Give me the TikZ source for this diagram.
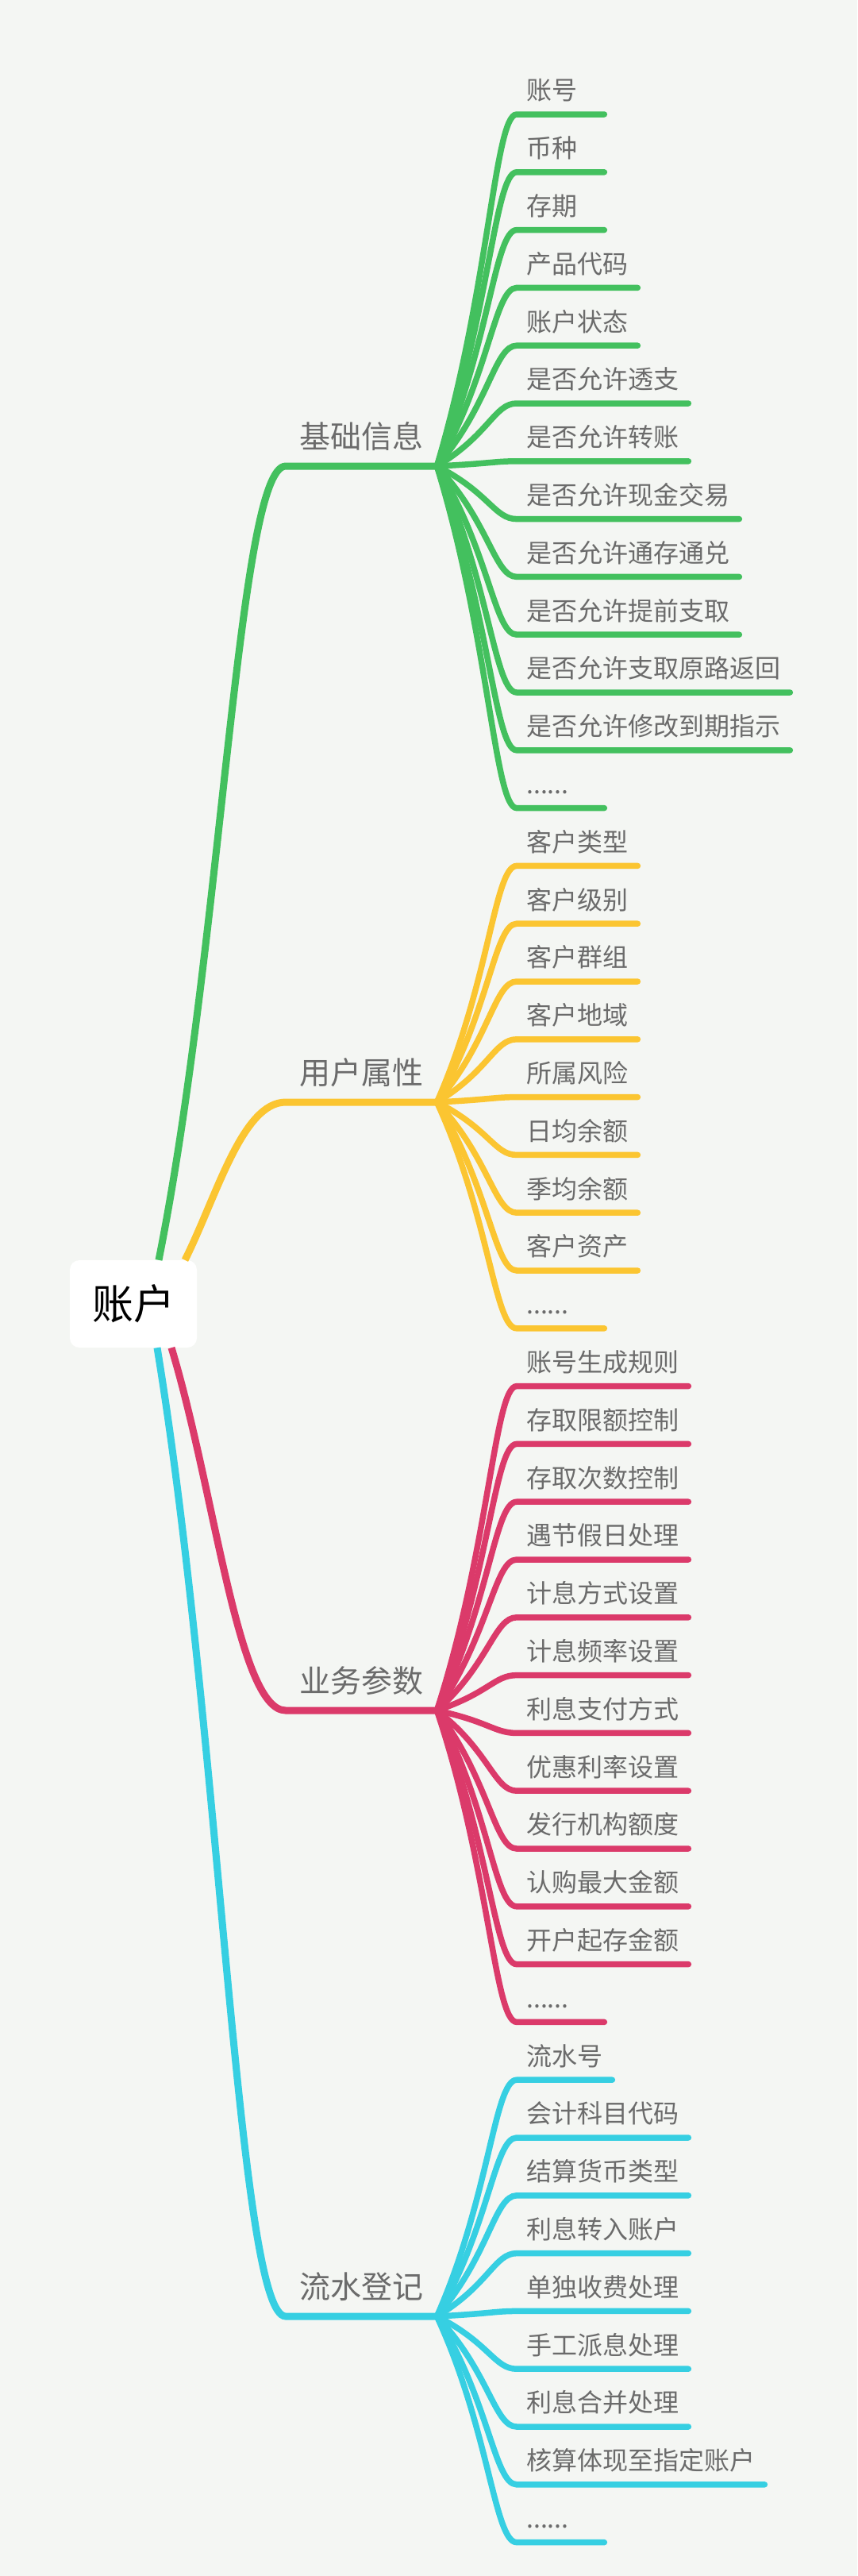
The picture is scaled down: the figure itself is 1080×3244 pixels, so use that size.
\documentclass[tikz,border=0pt]{standalone}
\usepackage{fontspec}
\setmainfont{Noto Sans CJK SC}
\usepackage{tikz}
\usetikzlibrary{calc}
\definecolor{MapBg}{HTML}{F4F6F3}
\definecolor{MapGreen}{HTML}{43C05E}
\definecolor{MapYellow}{HTML}{FBC531}
\definecolor{MapRed}{HTML}{DB3A6A}
\definecolor{MapCyan}{HTML}{36CFE2}
\definecolor{MapText}{HTML}{6B6B6B}
% pad short items so the underline keeps a minimum length
\newcommand{\itemtxt}[1]{\setbox0\hbox{#1}\ifdim\wd0<86pt\hbox to 86pt{\box0\hss}\else\box0\fi}
\newcommand{\moredots}{......}
\tikzset{
  rootbox/.style={fill=white,rounded corners=12pt,minimum width=160pt,minimum height=110pt,font=\fontsize{52}{60}\selectfont},
  topicbox/.style={anchor=south west,inner xsep=17pt,inner ysep=17pt,text=MapText,text height=34pt,text depth=5pt,font=\fontsize{39}{46}\selectfont},
  itembox/.style={anchor=south west,inner xsep=12pt,inner ysep=14pt,text=MapText,text height=28pt,text depth=4pt,font=\fontsize{32}{38}\selectfont},
  trunk/.style={line width=9pt,line cap=butt},
  twig/.style={line width=7.5pt,line cap=round},
}

\begin{document}
\begin{tikzpicture}[x=1pt,y=-1pt]
\fill[MapBg] (0,0) rectangle (1080,3244);

% centre
\node[rootbox] (acct) at (168,1642) {账户};

% main topics
\node[topicbox] (base) at (360,587) {基础信息};
\node[topicbox] (user) at (360,1388) {用户属性};
\node[topicbox] (biz) at (360,2154) {业务参数};
\node[topicbox] (flow) at (360,2917) {流水登记};

\draw[trunk,MapGreen] ([xshift=32pt]acct.north) .. controls +(80,-400) and +(-60,0) .. (base.south west) -- (base.south east);
\draw[trunk,MapYellow] ([xshift=65pt]acct.north) .. controls +(40,-80) and +(-55,0) .. (user.south west) -- (user.south east);
\draw[trunk,MapRed] ([xshift=48pt]acct.south) .. controls +(55,182) and +(-60,0) .. (biz.south west) -- (biz.south east);
\draw[trunk,MapCyan] ([xshift=30pt]acct.south) .. controls +(80,488) and +(-60,0) .. (flow.south west) -- (flow.south east);

% items, one row every 72.8
\foreach \t [count=\i from 0] in {账号,币种,存期,产品代码,账户状态,是否允许透支,是否允许转账,
    是否允许现金交易,是否允许通存通兑,是否允许提前支取,是否允许支取原路返回,是否允许修改到期指示,\moredots} {
  \node[itembox] (g\i) at (651,144+72.8*\i) {\itemtxt{\t}};
  \draw[twig,MapGreen] (base.south east) .. controls +(66,{0.5*(144+72.8*\i-587)}) and +(-28,0) .. (g\i.south west) -- (g\i.south east);
}
\foreach \t [count=\i from 13] in {客户类型,客户级别,客户群组,客户地域,所属风险,日均余额,季均余额,客户资产,\moredots} {
  \node[itembox] (y\i) at (651,144+72.8*\i) {\itemtxt{\t}};
  \draw[twig,MapYellow] (user.south east) .. controls +(66,{0.5*(144+72.8*\i-1388)}) and +(-28,0) .. (y\i.south west) -- (y\i.south east);
}
\foreach \t [count=\i from 22] in {账号生成规则,存取限额控制,存取次数控制,遇节假日处理,计息方式设置,计息频率设置,
    利息支付方式,优惠利率设置,发行机构额度,认购最大金额,开户起存金额,\moredots} {
  \node[itembox] (r\i) at (651,144+72.8*\i) {\itemtxt{\t}};
  \draw[twig,MapRed] (biz.south east) .. controls +(66,{0.5*(144+72.8*\i-2154)}) and +(-28,0) .. (r\i.south west) -- (r\i.south east);
}
\foreach \t [count=\i from 34] in {流水号,会计科目代码,结算货币类型,利息转入账户,单独收费处理,手工派息处理,
    利息合并处理,核算体现至指定账户,\moredots} {
  \node[itembox] (c\i) at (651,144+72.8*\i) {\itemtxt{\t}};
  \draw[twig,MapCyan] (flow.south east) .. controls +(66,{0.5*(144+72.8*\i-2917)}) and +(-28,0) .. (c\i.south west) -- (c\i.south east);
}
\end{tikzpicture}
\end{document}
